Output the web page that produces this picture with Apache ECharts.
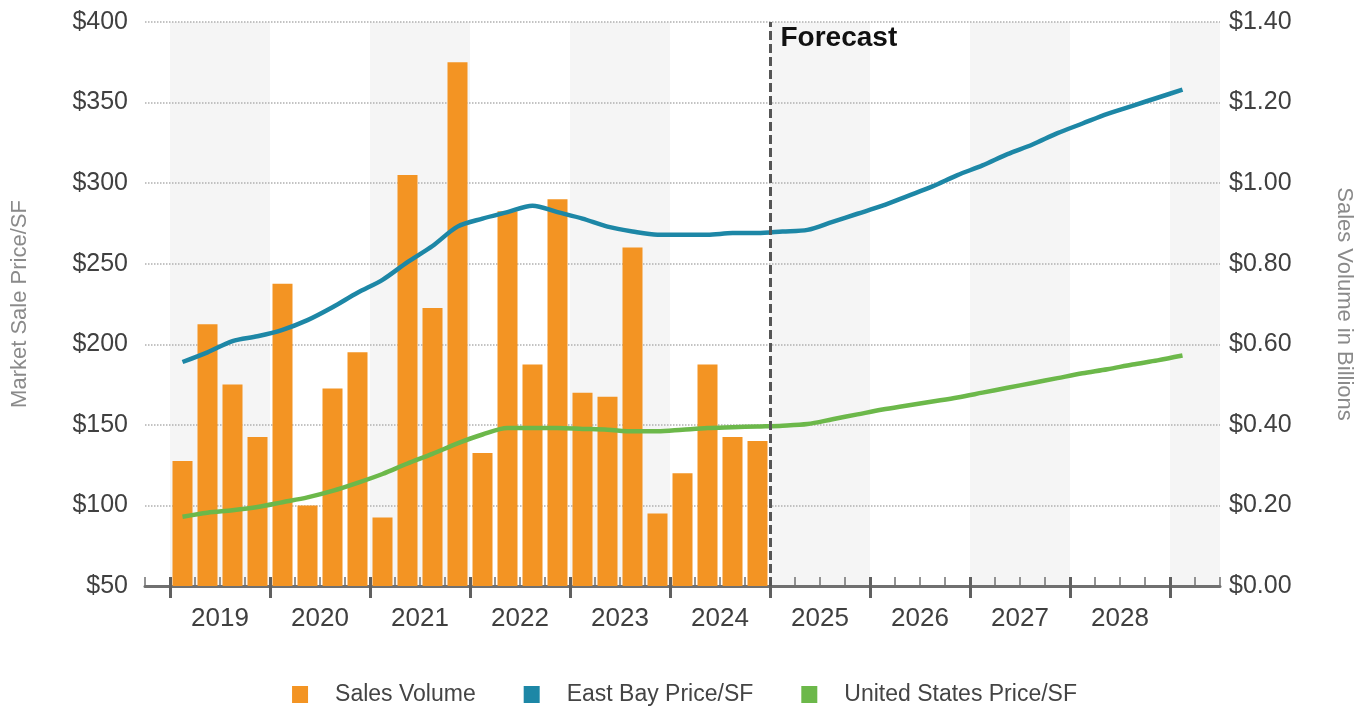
<!DOCTYPE html>
<html>
<head>
<meta charset="utf-8">
<title>East Bay Sales Volume and Market Price</title>
<script src="https://cdn.jsdelivr.net/npm/echarts@6.0.0/dist/echarts.min.js"></script>
<style>
  html, body { margin: 0; padding: 0; background: #ffffff; }
  #chart { width: 1369px; height: 708px; }
</style>
</head>
<body>
<div id="chart"></div>
<script>
// Quarterly timeline: one lead-in quarter (2018 Q4), 2019-2028, and two quarters of 2029
const years = [2019, 2020, 2021, 2022, 2023, 2024, 2025, 2026, 2027, 2028];
const quarters = ['2018 Q4'];
years.forEach(function (y) { ['Q1', 'Q2', 'Q3', 'Q4'].forEach(function (q) { quarters.push(y + ' ' + q); }); });
quarters.push('2029 Q1', '2029 Q2');

// Sales volume in billions, 2019 Q1 - 2024 Q4
const salesVolume = [
  0.31, 0.65, 0.50, 0.37,
  0.75, 0.20, 0.49, 0.58,
  0.17, 1.02, 0.69, 1.30,
  0.33, 0.93, 0.55, 0.96,
  0.48, 0.47, 0.84, 0.18,
  0.28, 0.55, 0.37, 0.36
];

// Market sale price per SF, 2019 Q1 - 2029 Q1 (2025 onward is forecast)
const eastBayPrice = [
  189, 195, 202, 205,
  209, 215, 223, 232,
  240, 251, 261, 273,
  278, 282, 286, 282,
  278, 273, 270, 268,
  268, 268, 269, 269,
  270, 271, 276, 281,
  286, 292, 298, 305,
  311, 318, 324, 331,
  337, 343, 348, 353,
  358
];
const usPrice = [
  93, 95.5, 97, 99,
  102, 105, 109, 114,
  119.5, 126, 132, 138.5,
  144, 148, 148, 148,
  147.5, 147, 146, 146,
  147, 148, 148.5, 149,
  149.5, 150.5, 153.5, 156.5,
  159.5, 162, 164.5, 167,
  170, 173, 176, 179,
  182, 184.5, 187.5, 190,
  193
];

const priceTicks = { min: 50, max: 400, step: 50 };
const volumeTicks = { min: 0, max: 1.4, step: 0.2 };
const forecastLabel = 'Forecast';

// Place series on the quarter categories
const firstIdx = quarters.indexOf('2019 Q1');
function onTimeline(values) {
  const out = quarters.map(function () { return null; });
  values.forEach(function (v, i) { out[firstIdx + i] = v; });
  return out;
}

// Positions on the continuous quarter scale (slot i spans [i, i+1])
const nQ = quarters.length;
const allBounds = quarters.map(function (_, i) { return i; }).concat([nQ]);
const yearStarts = years.concat([2029]).map(function (y) { return quarters.indexOf(y + ' Q1'); });
const yearCenters = years.map(function (y) { return quarters.indexOf(y + ' Q1') + 2; });
const bandBounds = [0].concat(yearStarts).concat([nQ]);
const forecastStart = quarters.indexOf('2025 Q1');

const FONT = '"Liberation Sans", Arial, Helvetica, sans-serif';
const chart = echarts.init(document.getElementById('chart'), null, { renderer: 'canvas' });

const qAxisBase = {
  type: 'value', min: 0, max: nQ, position: 'bottom', gridIndex: 0,
  axisLine: { show: false, onZero: false },
  axisTick: { show: false },
  axisLabel: { show: false },
  splitLine: { show: false }
};

chart.setOption({
  backgroundColor: '#ffffff',
  animation: false,
  textStyle: { fontFamily: FONT },
  grid: { left: 145, right: 149, top: 22, bottom: 122, outerBoundsMode: 'none' },
  legend: {
    bottom: -3,
    left: 'center',
    itemWidth: 16,
    itemHeight: 17,
    itemGap: 48,
    icon: 'rect',
    textStyle: { fontSize: 23, color: '#444', fontFamily: FONT, padding: [0, 0, 0, 22] },
    data: ['Sales Volume', 'East Bay Price/SF', 'United States Price/SF']
  },
  xAxis: [
    // categories carrying the data
    {
      type: 'category', data: quarters, boundaryGap: true, gridIndex: 0, position: 'bottom',
      axisLine: { show: false, onZero: false }, axisTick: { show: false }, axisLabel: { show: false },
      splitLine: { show: false }
    },
    // axis line, quarter ticks and year labels
    Object.assign({}, qAxisBase, {
      axisLine: { show: true, onZero: false, lineStyle: { color: '#707070', width: 3 } },
      axisTick: { show: true, inside: true, length: 9, customValues: allBounds, lineStyle: { color: '#707070', width: 1.5 } },
      axisLabel: {
        show: true, customValues: yearCenters, margin: 20, fontSize: 26, color: '#404040', fontFamily: FONT,
        formatter: function (v) { return String(years[yearCenters.indexOf(v)]); }
      }
    }),
    // alternating year bands
    Object.assign({}, qAxisBase, {
      z: -1,
      axisTick: { show: false, customValues: bandBounds },
      splitArea: { show: true, areaStyle: { color: ['rgba(255,255,255,0)', '#f5f5f5'] } }
    }),
    // year ticks crossing the axis line
    Object.assign({}, qAxisBase, {
      offset: -9,
      axisTick: { show: true, inside: false, length: 21, customValues: yearStarts, lineStyle: { color: '#606060', width: 3 } }
    })
  ],
  yAxis: [
    {
      type: 'value', min: priceTicks.min, max: priceTicks.max, interval: priceTicks.step, position: 'left',
      name: 'Market Sale Price/SF', nameLocation: 'middle', nameRotate: 90, nameGap: 114,
      nameTextStyle: { fontSize: 22, color: '#8a8a8a', fontFamily: FONT },
      axisLine: { show: false }, axisTick: { show: false },
      axisLabel: { margin: 17, fontSize: 25, color: '#404040', fontFamily: FONT, formatter: function (v) { return '$' + v; } },
      splitLine: { show: true, lineStyle: { type: 'dotted', color: '#b0b0b0', width: 1.5 } }
    },
    {
      type: 'value', min: volumeTicks.min, max: volumeTicks.max, interval: volumeTicks.step, position: 'right',
      name: 'Sales Volume in Billions', nameLocation: 'middle', nameRotate: -90, nameGap: 113,
      nameTextStyle: { fontSize: 22, color: '#8a8a8a', fontFamily: FONT },
      axisLine: { show: false }, axisTick: { show: false },
      axisLabel: { margin: 9, fontSize: 25, color: '#404040', fontFamily: FONT, formatter: function (v) { return '$' + v.toFixed(2); } },
      splitLine: { show: false }
    }
  ],
  series: [
    {
      name: 'Sales Volume', type: 'bar', xAxisIndex: 0, yAxisIndex: 1,
      data: onTimeline(salesVolume), barWidth: '80%',
      itemStyle: { color: '#F39423' }, z: 2
    },
    {
      name: 'East Bay Price/SF', type: 'line', xAxisIndex: 0, yAxisIndex: 0,
      data: onTimeline(eastBayPrice), smooth: 0.3, showSymbol: false, symbol: 'none',
      lineStyle: { color: '#1D87A6', width: 4.5 }, itemStyle: { color: '#1D87A6' }, z: 4
    },
    {
      name: 'United States Price/SF', type: 'line', xAxisIndex: 0, yAxisIndex: 0,
      data: onTimeline(usPrice), smooth: 0.3, showSymbol: false, symbol: 'none',
      lineStyle: { color: '#6CB84A', width: 4.5 }, itemStyle: { color: '#6CB84A' }, z: 4
    },
    {
      name: 'forecast-divider', type: 'line', xAxisIndex: 1, yAxisIndex: 0, data: [], z: 5,
      markLine: {
        silent: true, symbol: ['none', 'none'],
        lineStyle: { type: [9, 4], width: 3, color: '#555555' },
        label: { show: false },
        data: [{ xAxis: forecastStart }]
      },
      markPoint: {
        silent: true, symbol: 'circle', symbolSize: 1,
        itemStyle: { color: 'rgba(0,0,0,0)' },
        label: {
          show: true, position: 'right', distance: 10, offset: [0, 16],
          formatter: forecastLabel, fontSize: 28, fontWeight: 'bold', color: '#111111', fontFamily: FONT
        },
        data: [{ coord: [forecastStart, priceTicks.max] }]
      }
    }
  ]
});
</script>
</body>
</html>
